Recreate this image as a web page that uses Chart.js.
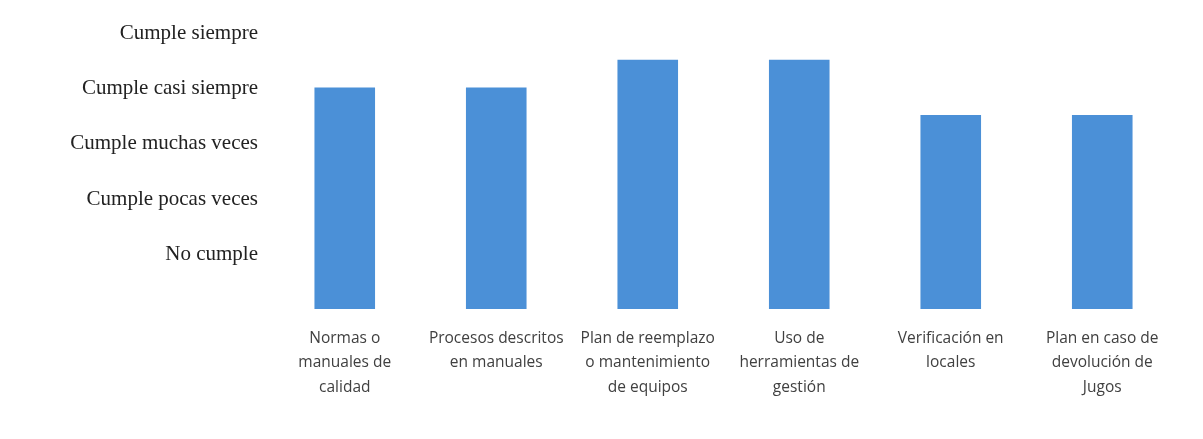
<!DOCTYPE html>
<html lang="es">
<head>
<meta charset="utf-8">
<title>Nivel de cumplimiento</title>
<script src="https://cdn.jsdelivr.net/npm/chart.js@4.4.1/dist/chart.umd.min.js"></script>
<style>
  html, body { margin: 0; padding: 0; background: #fff; }
  #wrap { width: 1203px; height: 439px; }
</style>
</head>
<body>
<div id="wrap"><canvas id="c"></canvas></div>
<script>
'use strict';

// ── Data ──────────────────────────────────────────────────
const CATEGORIES = [
  ['Normas o', 'manuales de', 'calidad'],
  ['Procesos descritos', 'en manuales'],
  ['Plan de reemplazo', 'o mantenimiento', 'de equipos'],
  ['Uso de', 'herramientas de', 'gestión'],
  ['Verificación en', 'locales'],
  ['Plan en caso de', 'devolución de', 'Jugos'],
];
const VALUES = [4, 4, 4.5, 4.5, 3.5, 3.5];
const LEVELS = ['', 'No cumple', 'Cumple pocas veces', 'Cumple muchas veces', 'Cumple casi siempre', 'Cumple siempre'];

const BAR = '#4b90d7';

new Chart(document.getElementById('c'), {
  type: 'bar',
  data: {
    labels: CATEGORIES,
    datasets: [{
      data: VALUES,
      backgroundColor: BAR,
      borderWidth: 0,
      categoryPercentage: 1,
      barPercentage: 0.4,
    }]
  },
  options: {
    responsive: true,
    maintainAspectRatio: false,
    animation: false,
    layout: { padding: { top: 32, right: 25, left: 0, bottom: 0 } },
    plugins: { legend: { display: false }, tooltip: { enabled: false } },
    scales: {
      x: {
        grid: { display: false, drawTicks: false },
        border: { display: false },
        ticks: {
          color: '#404040',
          padding: 17,
          maxRotation: 0,
          autoSkip: false,
          font: { family: 'Open Sans', size: 15.5, lineHeight: 1.58 },
        },
        afterFit: s => { s.height = 130; },
      },
      y: {
        min: 0, max: 5,
        grid: { display: false, drawTicks: false },
        border: { display: false },
        ticks: {
          stepSize: 1,
          color: '#222',
          padding: 11,
          labelOffset: 1,
          font: { family: 'Liberation Serif', size: 21 },
          callback: v => LEVELS[v] ?? '',
        },
        afterFit: s => { s.width = 269; },
      }
    }
  }
});
</script>
</body>
</html>
